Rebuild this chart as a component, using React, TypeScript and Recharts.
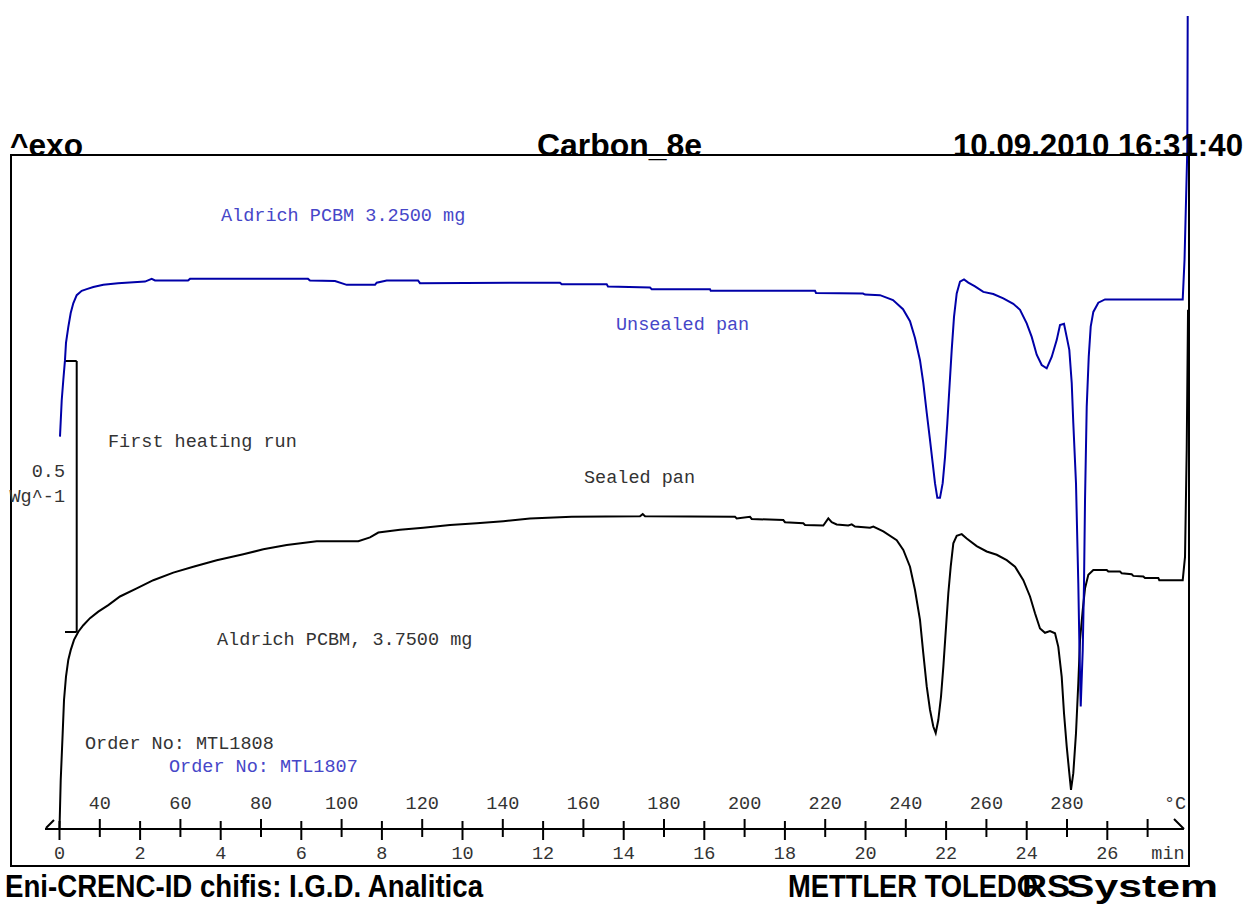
import { ComposedChart, Line, ReferenceLine, XAxis, YAxis } from "recharts";

// time in min (10 K/min from 30 °C), heat flow in W/g (exo up, arbitrary offset)
const unsealedTime = [
  0.012, 0.055, 0.094, 0.136, 0.161, 0.218, 0.278, 0.342, 0.427, 0.551, 0.675, 0.839,
  1.087, 1.452, 2.122, 2.288, 2.37, 3.189, 3.238, 6.166, 6.216, 6.836, 7.127, 7.829,
  7.871, 8.119, 8.896, 8.945, 12.419, 12.462, 13.578, 13.61, 14.653, 14.695, 16.141,
  16.159, 18.747, 18.772, 19.938, 19.988, 20.36, 20.682, 20.931, 21.104, 21.228, 21.352,
  21.434, 21.519, 21.6, 21.667, 21.724, 21.782, 21.848, 21.915, 21.973, 22.03, 22.079,
  22.139, 22.196, 22.263, 22.345, 22.444, 22.551, 22.717, 22.923, 23.171, 23.419, 23.667,
  23.834, 24.0, 24.124, 24.248, 24.372, 24.496, 24.62, 24.744, 24.826, 24.925, 24.992,
  25.057, 25.117, 25.156, 25.223, 25.28, 25.305, 25.34, 25.39, 25.422, 25.447, 25.489,
  25.539, 25.588, 25.653, 25.777, 25.943, 27.871, 27.916, 27.985, 27.995,
];
const unsealedHeatFlow = [
  0.724, 0.791, 0.828, 0.865, 0.897, 0.926, 0.952, 0.97, 0.985, 0.993, 0.996, 1.0,
  1.004, 1.007, 1.01, 1.015, 1.012, 1.012, 1.015, 1.015, 1.012, 1.011, 1.004, 1.004,
  1.008, 1.012, 1.012, 1.007, 1.008, 1.005, 1.005, 1.001, 0.999, 0.996, 0.996,
  0.993, 0.993, 0.989, 0.988, 0.986, 0.985, 0.976, 0.959, 0.937, 0.906, 0.865,
  0.823, 0.768, 0.718, 0.675, 0.638, 0.611, 0.611, 0.638, 0.686, 0.749, 0.81,
  0.884, 0.945, 0.988, 1.01, 1.014, 1.008, 1.001, 0.991, 0.987, 0.979, 0.969,
  0.958, 0.933, 0.908, 0.875, 0.856, 0.85, 0.871, 0.902, 0.93, 0.932, 0.908,
  0.884, 0.823, 0.749, 0.638, 0.454, 0.349, 0.226, 0.33, 0.454, 0.607, 0.779,
  0.871, 0.927, 0.954, 0.971, 0.977, 0.977, 1.05, 1.253, 1.5,
];

const sealedTime = [
  0.0, 0.03, 0.079, 0.112, 0.161, 0.218, 0.278, 0.36, 0.467, 0.591, 0.757, 0.963,
  1.211, 1.501, 1.916, 2.328, 2.824, 3.32, 3.901, 4.561, 5.057, 5.638, 6.382, 7.414,
  7.705, 7.911, 8.449, 9.027, 9.69, 10.352, 11.012, 11.675, 12.71, 14.404, 14.471,
  14.529, 16.762, 16.804, 17.134, 17.176, 17.96, 18.002, 18.457, 18.499, 18.953,
  19.077, 19.161, 19.285, 19.573, 19.658, 19.739, 20.112, 20.194, 20.442, 20.774,
  20.938, 21.104, 21.228, 21.352, 21.434, 21.519, 21.6, 21.682, 21.742, 21.806,
  21.873, 21.931, 21.998, 22.055, 22.114, 22.179, 22.263, 22.387, 22.511, 22.759,
  23.007, 23.256, 23.504, 23.71, 23.916, 24.082, 24.206, 24.33, 24.454, 24.578,
  24.702, 24.784, 24.868, 24.926, 24.993, 25.057, 25.099, 25.156, 25.223, 25.28,
  25.323, 25.39, 25.447, 25.529, 25.653, 25.985, 26.025, 26.315, 26.357, 26.605,
  26.645, 26.893, 26.935, 27.266, 27.29, 27.871, 27.928, 27.97, 28.003,
];
const sealedHeatFlow = [
  0.0, 0.09, 0.177, 0.238, 0.281, 0.312, 0.33, 0.349, 0.364, 0.376, 0.389, 0.401,
  0.413, 0.429, 0.444, 0.459, 0.473, 0.484, 0.496, 0.507, 0.516, 0.524, 0.531, 0.531,
  0.538, 0.547, 0.552, 0.556, 0.561, 0.564, 0.568, 0.573, 0.576, 0.577, 0.581,
  0.577, 0.576, 0.573, 0.576, 0.572, 0.57, 0.566, 0.564, 0.561, 0.56,
  0.573, 0.566, 0.562, 0.56, 0.562, 0.558, 0.556, 0.558, 0.549, 0.533,
  0.515, 0.484, 0.441, 0.386, 0.324, 0.263, 0.22, 0.189, 0.177, 0.201,
  0.244, 0.299, 0.373, 0.435, 0.484, 0.527, 0.541, 0.544, 0.536, 0.522,
  0.512, 0.506, 0.496, 0.484, 0.459, 0.429, 0.398, 0.37, 0.362, 0.365,
  0.361, 0.336, 0.281, 0.213, 0.152, 0.103, 0.072, 0.103, 0.177, 0.269,
  0.349, 0.404, 0.444, 0.469, 0.478, 0.478, 0.475, 0.475, 0.472, 0.47,
  0.467, 0.466, 0.463, 0.463, 0.459, 0.459, 0.502, 0.699, 0.958,
];

const minuteTicks = [
  0, 1, 2, 3, 4, 5, 6, 7, 8, 9, 10, 11, 12, 13, 14, 15, 16, 17, 18, 19, 20, 21, 22, 23,
  24, 25, 26, 27,
];
const minuteLabels = ["0", "2", "4", "6", "8", "10", "12", "14", "16", "18", "20", "22", "24", "26"];
const temperatureLabels = [
  "40", "60", "80", "100", "120", "140", "160", "180", "200", "220", "240", "260", "280",
];

const unsealed = unsealedTime.map((t, i) => ({ t, hf: unsealedHeatFlow[i] }));
const sealed = sealedTime.map((t, i) => ({ t, hf: sealedHeatFlow[i] }));

const monoFont = "'Liberation Mono', 'DejaVu Sans Mono', monospace";
const boldFont = "'Liberation Sans', Arial, sans-serif";
const textGray = "#333";
const textBlue = "#4646c8";

function AxisTick({ x, y, payload }: any) {
  const m = payload.value as number;
  const odd = m % 2 === 1;
  const temp = odd ? temperatureLabels[(m - 1) / 2] : undefined;
  const minute = !odd ? minuteLabels[m / 2] : undefined;
  return (
    <g>
      <line
        x1={x}
        x2={x}
        y1={odd ? y - 10 : y - 8}
        y2={odd ? y + 8 : y + 11}
        stroke="#000"
        strokeWidth={2}
      />
      {temp && (
        <text x={x} y={y - 20} textAnchor="middle" fontFamily={monoFont} fontSize={18.5} fill={textGray}>
          {temp}
        </text>
      )}
      {minute && (
        <text x={x} y={y + 30} textAnchor="middle" fontFamily={monoFont} fontSize={18.5} fill={textGray}>
          {minute}
        </text>
      )}
    </g>
  );
}

export default function App() {
  return (
    <div style={{ position: "absolute", left: 0, top: 0, width: 1246, height: 904, background: "#fff" }}>
      <ComposedChart
        width={1246}
        height={904}
        margin={{ top: 16, right: 57, bottom: 0, left: 11 }}
      >
        <XAxis
          type="number"
          dataKey="t"
          domain={[-1.2035, 28.027]}
          allowDataOverflow
          ticks={minuteTicks}
          interval={0}
          tick={<AxisTick />}
          tickLine={false}
          axisLine={false}
          tickSize={0}
          tickMargin={0}
          height={75}
        />
        <YAxis type="number" domain={[0, 1.5]} hide />
        {/* drawn time axis */}
        <ReferenceLine
          segment={[{ x: -0.36, y: 0 }, { x: 27.9, y: 0 }]}
          stroke="#000"
          strokeWidth={2}
          ifOverflow="visible"
        />
        {/* 0.5 W/g scale bar */}
        <ReferenceLine
          segment={[{ x: 0.427, y: 0.3635 }, { x: 0.427, y: 0.8635 }]}
          stroke="#000"
          strokeWidth={2}
          ifOverflow="visible"
        />
        <ReferenceLine
          segment={[{ x: 0.136, y: 0.8635 }, { x: 0.427, y: 0.8635 }]}
          stroke="#000"
          strokeWidth={2}
          ifOverflow="visible"
        />
        <ReferenceLine
          segment={[{ x: 0.136, y: 0.3635 }, { x: 0.427, y: 0.3635 }]}
          stroke="#000"
          strokeWidth={2}
          ifOverflow="visible"
        />
        <Line
          data={sealed}
          dataKey="hf"
          type="linear"
          stroke="#000"
          strokeWidth={2}
          dot={false}
          isAnimationActive={false}
        />
        <Line
          data={unsealed}
          dataKey="hf"
          type="linear"
          stroke="#0000a8"
          strokeWidth={2}
          dot={false}
          isAnimationActive={false}
        />
      </ComposedChart>

      <svg
        width={1246}
        height={904}
        style={{ position: "absolute", left: 0, top: 0, pointerEvents: "none" }}
      >
        <rect x={11} y={155} width={1178} height={711} fill="none" stroke="#000" strokeWidth={2} />
        <path d="M46 828 L54 820 M1174 819 L1184 829" stroke="#000" strokeWidth={2} />

        <g fontFamily={boldFont} fontWeight="bold" fontSize={31} fill="#000">
          <text x={10} y={156} textLength={73} lengthAdjust="spacingAndGlyphs">^exo</text>
          <text x={537} y={156} textLength={165} lengthAdjust="spacingAndGlyphs">Carbon_8e</text>
          <text x={953} y={156} textLength={290} lengthAdjust="spacingAndGlyphs">10.09.2010 16:31:40</text>
          <text x={5} y={897} textLength={478} lengthAdjust="spacingAndGlyphs">
            Eni-CRENC-ID chifis: I.G.D. Analitica
          </text>
          <text x={788} y={897} textLength={250} lengthAdjust="spacingAndGlyphs">METTLER TOLEDO</text>
          <text x={1022} y={897} textLength={48} lengthAdjust="spacingAndGlyphs">RS</text>
          <text x={1066} y={897} textLength={152} lengthAdjust="spacingAndGlyphs">System</text>
        </g>

        <g fontFamily={monoFont} fontSize={18.5}>
          <text x={221} y={221} fill={textBlue}>Aldrich PCBM 3.2500 mg</text>
          <text x={616} y={330} fill={textBlue}>Unsealed pan</text>
          <text x={108} y={447} fill={textGray}>First heating run</text>
          <text x={65} y={477} fill={textGray} textAnchor="end">0.5</text>
          <text x={65} y={502} fill={textGray} textAnchor="end">Wg^-1</text>
          <text x={584} y={483} fill={textGray}>Sealed pan</text>
          <text x={217} y={645} fill={textGray}>Aldrich PCBM, 3.7500 mg</text>
          <text x={85} y={749} fill={textGray}>Order No: MTL1808</text>
          <text x={169} y={772} fill={textBlue}>Order No: MTL1807</text>
          <text x={1175} y={809} fill={textGray} textAnchor="middle">°C</text>
          <text x={1168} y={859} fill={textGray} textAnchor="middle">min</text>
        </g>
      </svg>
    </div>
  );
}
